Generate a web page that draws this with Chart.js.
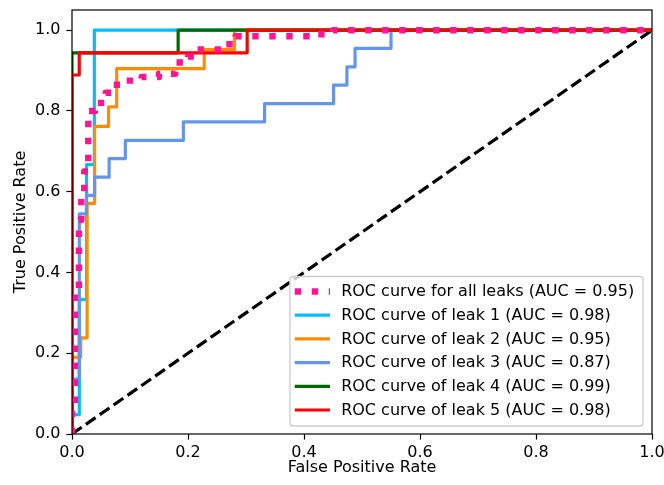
<!DOCTYPE html>
<html>
<head>
<meta charset="utf-8">
<script src="https://cdn.jsdelivr.net/npm/chart.js@4/dist/chart.umd.min.js"></script>
<style>
  html, body { margin: 0; padding: 0; background: #fff; }
</style>
</head>
<body>
<canvas id="rocChart" width="664" height="485"></canvas>
<script>
// ROC curves (fpr / tpr corner points)
const allFpr = [0, 0, 0.005, 0.005, 0.012, 0.012, 0.016, 0.016, 0.021, 0.021, 0.028, 0.028, 0.04, 0.04, 0.058, 0.058, 0.068, 0.068, 0.09, 0.09, 0.12, 0.12, 0.15, 0.15, 0.178, 0.178, 0.2, 0.2, 0.215, 0.215, 0.262, 0.262, 0.282, 0.282, 0.42, 0.42, 0.45, 0.45, 1];
const allTpr = [0, 0.07, 0.07, 0.35, 0.35, 0.53, 0.53, 0.6, 0.6, 0.65, 0.65, 0.8, 0.8, 0.82, 0.82, 0.845, 0.845, 0.865, 0.865, 0.875, 0.875, 0.884, 0.884, 0.892, 0.892, 0.92, 0.92, 0.935, 0.935, 0.952, 0.952, 0.965, 0.965, 0.985, 0.985, 0.99, 0.99, 1, 1];

const leak1Fpr = [0, 0, 0.0126, 0.0126, 0.025, 0.025, 0.0385, 0.0385, 1];
const leak1Tpr = [0, 0.048, 0.048, 0.333, 0.333, 0.667, 0.667, 1, 1];

const leak2Fpr = [0, 0, 0.015, 0.015, 0.026, 0.026, 0.039, 0.039, 0.063, 0.063, 0.077, 0.077, 0.228, 0.228, 0.28, 0.28, 1];
const leak2Tpr = [0, 0.19, 0.19, 0.238, 0.238, 0.571, 0.571, 0.762, 0.762, 0.81, 0.81, 0.905, 0.905, 0.952, 0.952, 1, 1];

const leak3Fpr = [0, 0, 0.0126, 0.0126, 0.025, 0.025, 0.039, 0.039, 0.064, 0.064, 0.092, 0.092, 0.192, 0.192, 0.332, 0.332, 0.451, 0.451, 0.474, 0.474, 0.488, 0.488, 0.55, 0.55, 1];
const leak3Tpr = [0, 0.136, 0.136, 0.545, 0.545, 0.591, 0.591, 0.636, 0.636, 0.682, 0.682, 0.727, 0.727, 0.773, 0.773, 0.818, 0.818, 0.864, 0.864, 0.909, 0.909, 0.955, 0.955, 1, 1];

const leak4Fpr = [0, 0, 0.183, 0.183, 1];
const leak4Tpr = [0, 0.944, 0.944, 1, 1];

const leak5Fpr = [0, 0, 0.0125, 0.0125, 0.302, 0.302, 1];
const leak5Tpr = [0, 0.889, 0.889, 0.944, 0.944, 1, 1];

const chanceFpr = [0, 1];
const chanceTpr = [0, 1];

const seriesLabels = [
  'ROC curve for all leaks (AUC = 0.95)',
  'ROC curve of leak 1 (AUC = 0.98)',
  'ROC curve of leak 2 (AUC = 0.95)',
  'ROC curve of leak 3 (AUC = 0.87)',
  'ROC curve of leak 4 (AUC = 0.99)',
  'ROC curve of leak 5 (AUC = 0.98)',
];
const xTicks = [0, 0.2, 0.4, 0.6, 0.8, 1.0];
const yTicks = [0, 0.2, 0.4, 0.6, 0.8, 1.0];

const font = { family: '"DejaVu Sans", sans-serif', size: 16 };

function toPoints(fpr, tpr) {
  return fpr.map((x, i) => ({ x: x, y: tpr[i] }));
}

// order: lower numbers end up on top (like later plot calls in matplotlib)
function curve(label, fpr, tpr, color, order, extra) {
  return Object.assign({
    label: label,
    data: toPoints(fpr, tpr),
    order: order,
    showLine: true,
    borderColor: color,
    backgroundColor: color,
    borderWidth: 3.2,
    pointRadius: 0,
    pointHoverRadius: 0,
    tension: 0,
    fill: false,
    borderJoinStyle: 'round',
  }, extra || {});
}

// matplotlib style legend box in the lower right corner
const boxLegend = {
  id: 'boxLegend',
  afterDatasetsDraw(chart) {
    const { ctx, chartArea } = chart;
    ctx.save();

    // frame round the plot
    ctx.strokeStyle = '#000';
    ctx.lineWidth = 1.2;
    ctx.setLineDash([]);
    ctx.strokeRect(chartArea.left, chartArea.top, chartArea.right - chartArea.left, chartArea.bottom - chartArea.top);

    ctx.font = font.size + 'px ' + font.family;
    const sets = chart.data.datasets.filter(d => d.label);
    const textW = Math.max(...sets.map(d => ctx.measureText(d.label).width));
    const em = font.size;
    const rowH = 23.7;
    const w = 0.4 * em + 2 * em + 0.8 * em + textW + 0.55 * em;
    const h = 15 + rowH * (sets.length - 1) + 16;
    const x0 = chartArea.right - 9 - w;
    const y0 = chartArea.bottom - 8 - h;

    ctx.beginPath();
    ctx.roundRect(x0, y0, w, h, 3);
    ctx.fillStyle = 'rgba(255,255,255,0.8)';
    ctx.fill();
    ctx.strokeStyle = '#cccccc';
    ctx.lineWidth = 1.3;
    ctx.stroke();

    sets.forEach((d, i) => {
      const cy = y0 + 15 + i * rowH;
      const hx = x0 + 0.4 * em;
      ctx.beginPath();
      ctx.strokeStyle = d.borderColor;
      ctx.lineWidth = d.borderWidth;
      if (d.borderDash) {
        ctx.setLineDash(d.borderDash);
        ctx.lineCap = 'butt';
        ctx.moveTo(hx - 1.6, cy);
        ctx.lineTo(hx + 2 * em + 1.6, cy);
      } else {
        ctx.setLineDash([]);
        ctx.lineCap = 'square';
        ctx.moveTo(hx, cy);
        ctx.lineTo(hx + 2 * em, cy);
      }
      ctx.stroke();
      ctx.setLineDash([]);
      ctx.fillStyle = '#000';
      ctx.textAlign = 'left';
      ctx.textBaseline = 'middle';
      ctx.fillText(d.label, hx + 2.8 * em, cy + 0.5);
    });
    ctx.restore();
  }
};

const ctx = document.getElementById('rocChart').getContext('2d');

const rocChart = new Chart(ctx, {
  type: 'scatter',
  data: {
    datasets: [
      curve(seriesLabels[0], allFpr, allTpr, '#ff1493', 0, { borderWidth: 6.4, borderDash: [6.4, 10.6], borderCapStyle: 'butt' }),
      curve(seriesLabels[1], leak1Fpr, leak1Tpr, '#00bfff', 5),
      curve(seriesLabels[2], leak2Fpr, leak2Tpr, '#ff8c00', 4),
      curve(seriesLabels[3], leak3Fpr, leak3Tpr, '#6495ed', 3),
      curve(seriesLabels[4], leak4Fpr, leak4Tpr, '#006a00', 2),
      curve(seriesLabels[5], leak5Fpr, leak5Tpr, '#ff0000', 1),
      curve('', chanceFpr, chanceTpr, '#000000', 6, { borderDash: [11.8, 5.1], borderCapStyle: 'butt' }),
    ],
  },
  options: {
    responsive: false,
    animation: false,
    devicePixelRatio: 1,
    layout: { padding: { left: 0, right: 12, top: 10, bottom: 0 } },
    plugins: {
      legend: { display: false },
      tooltip: { enabled: false },
    },
    scales: {
      x: {
        type: 'linear',
        min: 0,
        max: 1,
        afterBuildTicks: s => { s.ticks = xTicks.map(v => ({ value: v })); },
        afterFit: s => { s.height = 51; s.paddingLeft = 0; s.paddingRight = 0; },
        ticks: { font: font, color: '#000', padding: 4, maxRotation: 0, autoSkip: false, callback: v => v.toFixed(1) },
        grid: { display: true, drawOnChartArea: false, drawTicks: true, tickLength: 5.6, tickColor: '#000', tickWidth: 1.2 },
        border: { display: false },
        title: { display: true, text: 'False Positive Rate', font: font, color: '#000', padding: { top: 0, bottom: 8 } },
      },
      y: {
        type: 'linear',
        min: 0,
        max: 1.05,
        afterBuildTicks: s => { s.ticks = yTicks.map(v => ({ value: v })); },
        afterFit: s => { s.width = 72; s.paddingTop = 0; s.paddingBottom = 0; },
        ticks: { font: font, color: '#000', padding: 6, autoSkip: false, callback: v => v.toFixed(1) },
        grid: { display: true, drawOnChartArea: false, drawTicks: true, tickLength: 5.6, tickColor: '#000', tickWidth: 1.2 },
        border: { display: false },
        title: { display: true, text: 'True Positive Rate', font: font, color: '#000', padding: { top: 11, bottom: 0 } },
      },
    },
  },
  plugins: [boxLegend],
});
</script>
</body>
</html>
